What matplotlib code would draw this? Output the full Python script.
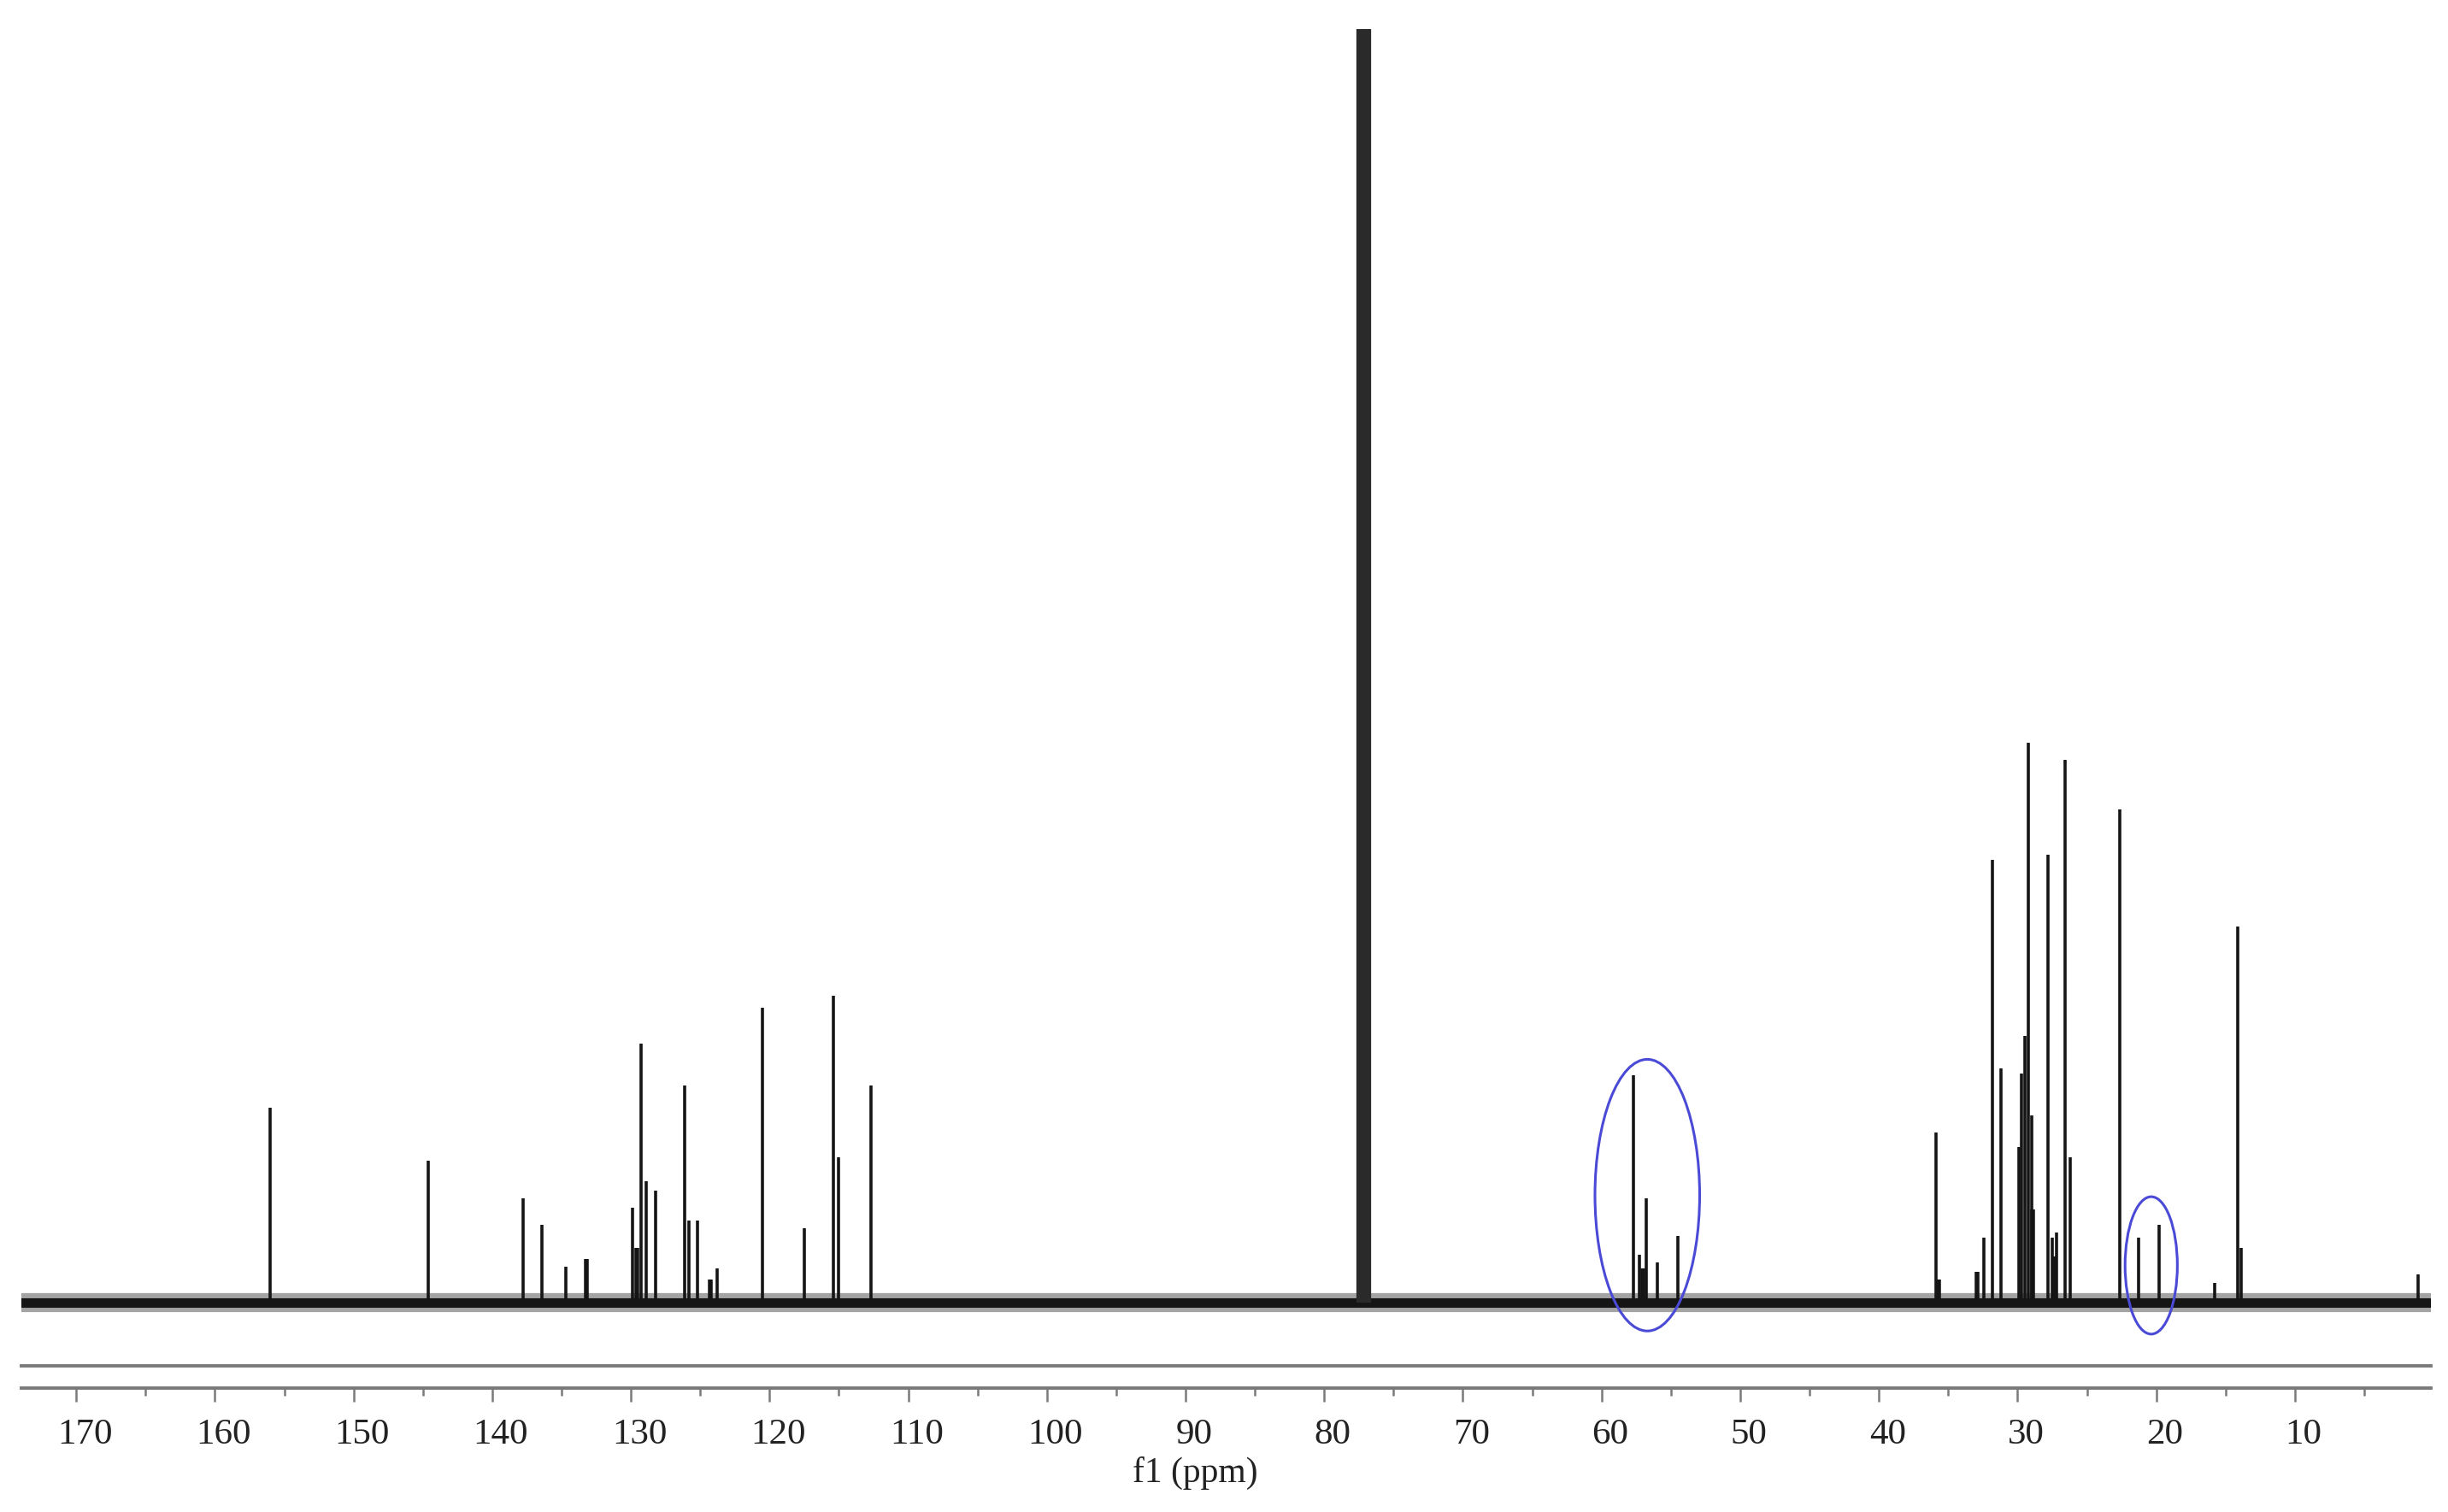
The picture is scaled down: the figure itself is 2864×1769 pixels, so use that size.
import matplotlib
matplotlib.use("Agg")
import matplotlib.pyplot as plt
from matplotlib.patches import Ellipse
from matplotlib.ticker import MultipleLocator
from matplotlib.transforms import ScaledTranslation

# 13C spectrum, peaks: position (ppm) and height above baseline (a.u.)
peak_ppm = [156.0, 144.6, 137.8, 136.4, 134.7, 129.9, 129.3, 128.9, 128.2, 126.1, 125.8, 125.2,
            123.8, 120.5, 117.5, 115.4, 115.0, 112.7,
            57.7, 57.3, 56.8, 56.0, 54.5,
            35.9, 32.4, 31.8, 31.2, 29.9, 29.7, 29.5, 29.2, 29.0, 27.8, 27.5, 27.2, 26.6, 26.2,
            22.6, 21.3, 19.8, 15.8, 14.1, 13.9, 1.1]
peak_height = [125, 91, 67, 50, 23, 61, 166, 78, 72, 139, 53, 53,
               22, 189, 48, 197, 93, 139,
               146, 31, 67, 26, 43,
               109, 42, 284, 150, 100, 147, 171, 359, 120, 287, 42, 45, 348, 93,
               316, 42, 50, 13, 241, 35, 18]

# broad humps under the sharp lines
broad_ppm = [133.2, 129.6, 124.3, 57.0, 35.7, 32.9, 28.9, 27.3]
broad_height = [28, 35, 15, 22, 15, 20, 60, 30]

# CDCl3 triplet, runs off the top
solvent_ppm = [77.48, 77.16, 76.84]
solvent_height = [1500, 1500, 1500]

# circled regions: centre ppm, centre height, width (ppm), height (a.u.)
circle_ppm = [56.7, 20.36]
circle_y = [69, 24]
circle_w = [7.55, 3.77]
circle_h = [174, 88]

xmin, xmax = 173.93, 0.21
line_col = "#151515"

fig = plt.figure(figsize=(28.64, 17.69), dpi=100)

ax = fig.add_axes([0.0089, 0.1125, 0.984, 0.8683])
ax.set_xlim(xmin, xmax)
ax.set_ylim(-25, 816)
ax.axis("off")

# baseline noise band
ax.axhline(0, color="#333333", lw=16, alpha=0.45, zorder=1)
ax.axhline(0, color=line_col, lw=8, zorder=2)

ax.vlines(broad_ppm, 0, broad_height, color=line_col, lw=4, zorder=3)
ax.vlines(peak_ppm, 0, peak_height, color=line_col, lw=2.6, zorder=3)
ax.vlines(solvent_ppm, 0, solvent_height, color="#2a2a2a", lw=4.5, zorder=3)

for cx, cy, w, h in zip(circle_ppm, circle_y, circle_w, circle_h):
    ax.add_patch(Ellipse((cx, cy), w, h, fill=False, edgecolor="#4a4ad6", lw=2.2, zorder=4))

# ppm scale with the double rule
sc = fig.add_axes([0.0089, 0.0820, 0.984, 0.0145])
sc.set_xlim(xmin, xmax)
sc.set_yticks([])
for side in ["left", "right"]:
    sc.spines[side].set_visible(False)
for side in ["top", "bottom"]:
    sc.spines[side].set_color("#7a7a7a")
    sc.spines[side].set_linewidth(2.8)
sc.xaxis.set_minor_locator(MultipleLocator(5))
sc.tick_params(axis="x", which="major", length=11.5, width=1.8, color="#7a7a7a", pad=14,
               labelsize=31, labelcolor="#222222")
sc.tick_params(axis="x", which="minor", length=6.7, width=1.8, color="#7a7a7a")
ticks = list(range(10, 171, 10))
sc.set_xticks(ticks)
sc.set_xticklabels([str(t) for t in ticks], family="Liberation Serif")
shift = ScaledTranslation(0.1, 0, fig.dpi_scale_trans)
for lab in sc.get_xticklabels():
    lab.set_transform(lab.get_transform() + shift)

fig.text(0.4884, 0.026, "f1 (ppm)", ha="center", va="center", fontsize=30,
         family="Liberation Serif", color="#222222")

fig.savefig("out.png", dpi=100, facecolor="white")
